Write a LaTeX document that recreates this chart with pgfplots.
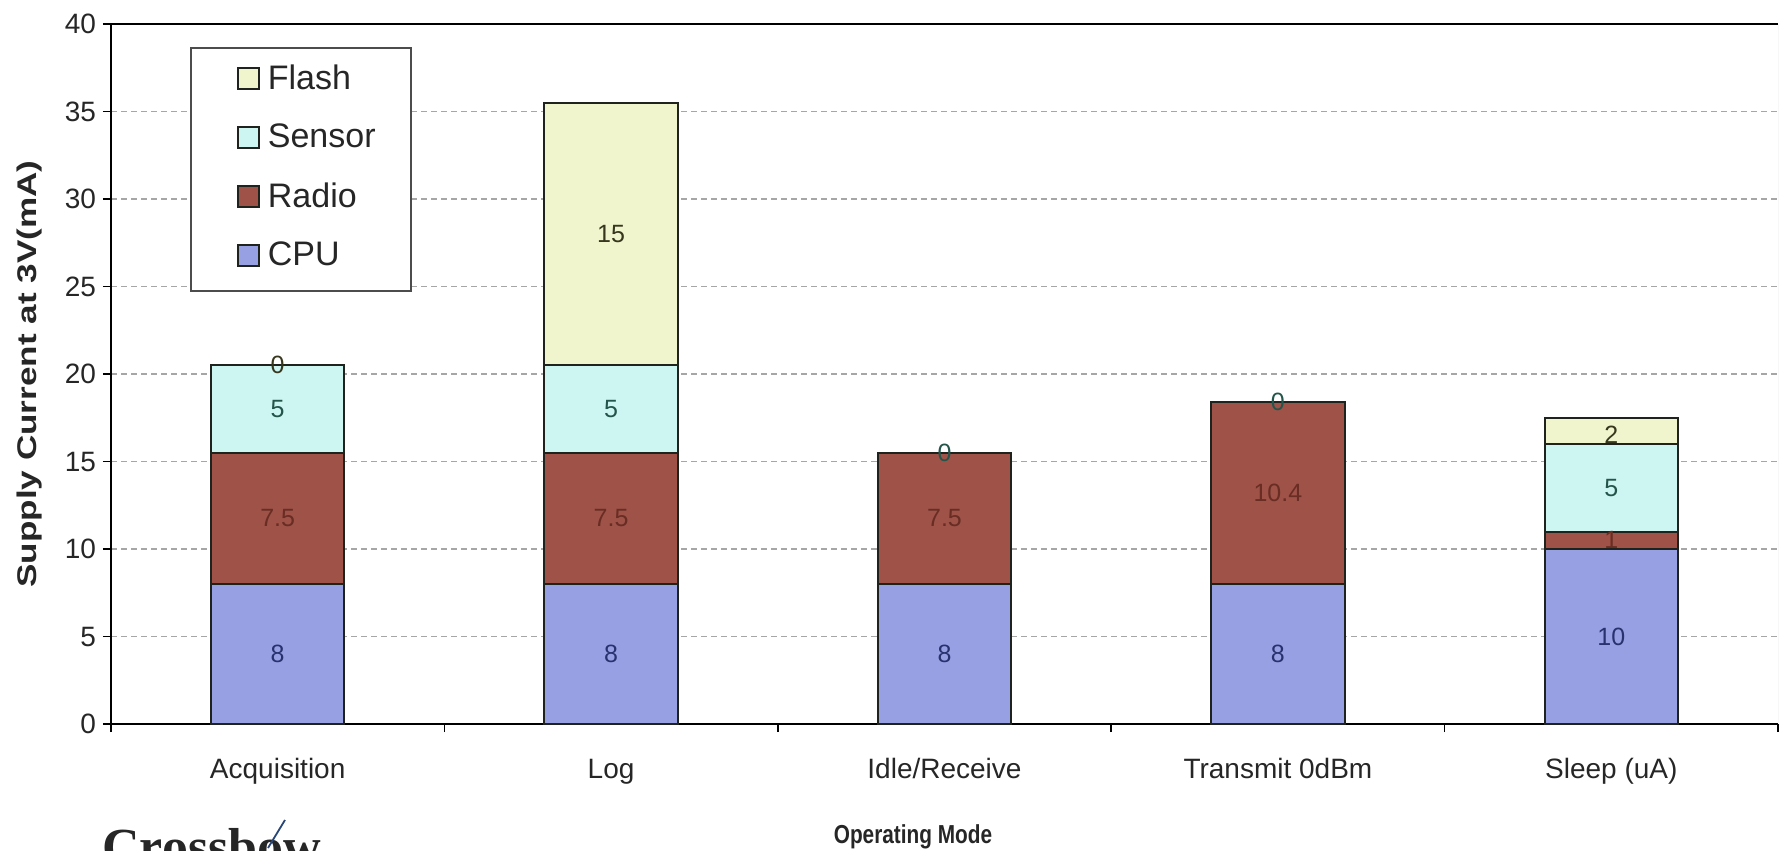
\documentclass[border=0pt]{standalone}
\usepackage{pgfplots}
\pgfplotsset{compat=1.18}
\usepackage{fontspec}
\setmainfont{Liberation Sans}
\newfontfamily\logofont{Liberation Serif}

% series fills and the darker tones used for their value labels
\definecolor{cpuFill}{RGB}{152,160,228}
\definecolor{radioFill}{RGB}{158,82,72}
\definecolor{sensorFill}{RGB}{205,245,242}
\definecolor{flashFill}{RGB}{240,245,205}
\definecolor{cpuText}{RGB}{40,50,110}
\definecolor{radioText}{RGB}{105,45,35}
\definecolor{sensorText}{RGB}{35,85,75}
\definecolor{flashText}{RGB}{55,55,30}
\definecolor{barEdge}{RGB}{30,35,30}
\definecolor{logoBlue}{RGB}{40,70,120}

% supply current per subsystem (mA), one row per operating mode
\pgfplotstableread{
x val
0 8
1 8
2 8
3 8
4 10
}\cpudata
\pgfplotstableread{
x val
0 7.5
1 7.5
2 7.5
3 10.4
4 1
}\radiodata
\pgfplotstableread{
x val
0 5
1 5
2 0
3 0
4 5
}\sensordata
\pgfplotstableread{
x val
0 0
1 15
4 2
}\flashdata

% square legend swatch with fixed padding around it
\newcommand{\swatch}[1]{%
  \path[draw=none, fill=none] (-23.5pt,-16pt) rectangle (15pt,13.5pt);
  \draw[fill=#1, draw=barEdge, line width=0.9pt] (0pt,-5.25pt) rectangle (10.5pt,5.25pt);}

\begin{document}
\begin{tikzpicture}
\useasboundingbox (0,0) rectangle (889.5pt,-425.5pt);
\begin{axis}[
  at={(55.5pt,-362pt)}, anchor=south west,
  scale only axis, width=833.5pt, height=350pt,
  ybar stacked, bar width=0.4,
  stacked ignores zero=false,
  xmin=-0.5, xmax=4.5, ymin=0, ymax=40,
  enlargelimits=false,
  axis x line*=bottom, axis y line*=left,
  axis line style={-, black, line width=1pt},
  tick align=outside, major tick length=4pt,
  tick style={black, line width=0.8pt},
  xtick={-0.5,0.5,...,4.5}, x tick label as interval,
  xticklabels={Acquisition,Log,Idle/Receive,Transmit 0dBm,Sleep (uA)},
  ytick={0,5,...,35},
  extra y ticks={40},
  extra y tick style={major grid style={solid, black, line width=1pt}},
  ymajorgrids=true,
  major grid style={dash pattern=on 3pt off 2pt, black!35, line width=0.6pt},
  /pgf/number format/assume math mode=true,
  tick label style={font=\fontsize{14}{16}\selectfont, text=black!85},
  xticklabel style={anchor=base, yshift=-23pt},
  ylabel={\scalebox{1.3}[1]{Supply Current at 3V(mA)}},
  ylabel style={at={(axis description cs:-0.0489,0.5)}, anchor=center,
    font=\bfseries\fontsize{13.5}{16}\selectfont, text=black!85},
  xlabel={\scalebox{0.8}[1]{Operating Mode}},
  xlabel style={at={(axis description cs:0.4811,-0.1614)}, anchor=center,
    font=\bfseries\fontsize{13}{15}\selectfont, text=black!85},
  visualization depends on=rawy \as \rawy,
  nodes near coords={\pgfmathprintnumber{\rawy}},
  every node near coord/.append style={anchor=center,
    font=\fontsize{12.5}{14}\selectfont},
  reverse legend,
  legend cell align=left,
  legend style={at={(axis description cs:0.0474,0.9671)}, anchor=north west,
    draw=black!70, line width=0.9pt, fill=white,
    inner xsep=0pt, inner ysep=1.75pt, row sep=0pt, column sep=0pt,
    font=\fontsize{17}{20}\selectfont,
    nodes={inner sep=0pt, text width=71.5pt, text=black!85}},
]
\addplot[fill=cpuFill, draw=barEdge, line width=1pt,
  every node near coord/.append style={text=cpuText},
  legend image code/.code={\swatch{cpuFill}}]
  table[x=x, y=val] {\cpudata};
\addlegendentry{CPU}
\addplot[fill=radioFill, draw=barEdge, line width=1pt,
  every node near coord/.append style={text=radioText},
  legend image code/.code={\swatch{radioFill}}]
  table[x=x, y=val] {\radiodata};
\addlegendentry{Radio}
\addplot[fill=sensorFill, draw=barEdge, line width=1pt,
  every node near coord/.append style={text=sensorText},
  legend image code/.code={\swatch{sensorFill}}]
  table[x=x, y=val] {\sensordata};
\addlegendentry{Sensor}
\addplot[fill=flashFill, draw=barEdge, line width=1pt,
  every node near coord/.append style={text=flashText},
  legend image code/.code={\swatch{flashFill}}]
  table[x=x, y=val] {\flashdata};
\addlegendentry{Flash}
\draw[black!25, line width=0.5pt] (rel axis cs:1,0) -- (rel axis cs:1,1);
\end{axis}
% company logo along the lower edge
\node[anchor=north west, inner sep=0pt, text=black!85,
  font=\logofont\bfseries\fontsize{26}{26}\selectfont] at (51pt,-414pt) {Crossbow};
\draw[logoBlue, line width=0.9pt] (134pt,-424pt) -- (142.5pt,-410pt);
\end{tikzpicture}
\end{document}
